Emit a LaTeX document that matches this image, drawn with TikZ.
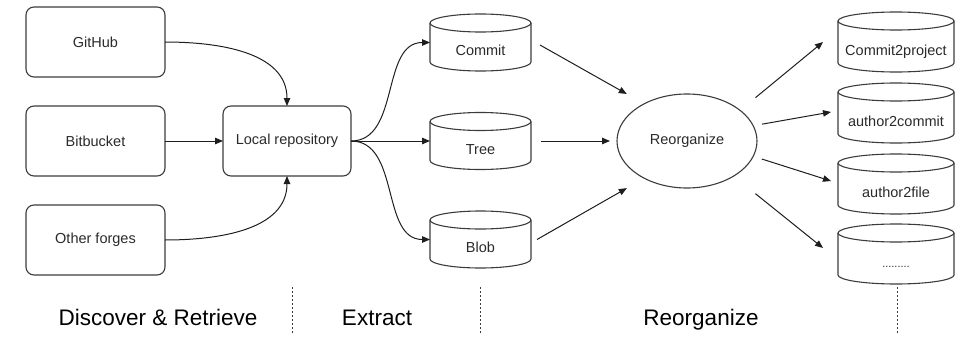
\documentclass[tikz,border=0pt]{standalone}
\usepackage{fontspec}
\setmainfont{Liberation Sans}
\usetikzlibrary{arrows.meta,shapes.geometric,calc}
\definecolor{boxgray}{HTML}{3C3C3C}
\definecolor{txt}{HTML}{2A2A2A}
\definecolor{arrcol}{HTML}{1E1E1E}
\begin{document}
\begin{tikzpicture}[x=1pt,y=1pt,
  box/.style={draw=boxgray, line width=1.1pt, rounded corners=8pt, minimum width=139pt, minimum height=70pt, inner sep=0pt, outer sep=0pt, font=\fontsize{14.5}{16}\selectfont, text=txt},
  db/.style={minimum width=#1, minimum height=57pt, text height=26pt, text depth=0pt, inner sep=0pt, outer sep=0pt, font=\fontsize{14.5}{16}\selectfont, text=txt},
  dbline/.style={draw=boxgray, line width=1.1pt},
  ell/.style={ellipse, draw=boxgray, line width=1.1pt, minimum width=140pt, minimum height=94pt, inner sep=0pt, outer sep=0pt, font=\fontsize{14.5}{16}\selectfont, text=txt},
  arr/.style={-{Triangle[length=8pt,width=6.5pt]}, line width=1pt, draw=arrcol},
  sepline/.style={draw=boxgray, line width=0.9pt, dash pattern=on 2pt off 2pt},
  stage/.style={font=\fontsize{22.5}{26}\selectfont, text=black, anchor=base}]
\useasboundingbox (0,0) rectangle (969,349);
% sources
\node[box] (github) at (95.5,307) {GitHub};
\node[box] (bitbucket) at (95.5,208) {Bitbucket};
\node[box] (other) at (95.5,109) {Other forges};
\node[box, minimum width=128pt] (local) at (287,208) {Local repository};
% extracted
\node[db=101pt] (commit) at (480.5,306.5) {Commit};
\node[db=101pt] (tree) at (480.5,208) {Tree};
\node[db=101pt] (blob) at (480.5,109.5) {Blob};
% reorganize
\node[ell] (reorg) at (687,208) {Reorganize};
\node[db=116pt, minimum height=60pt] (c2p) at (896,307) {Commit2project};
\node[db=116pt, minimum height=60pt] (a2c) at (896,236) {author2commit};
\node[db=116pt, minimum height=60pt] (a2f) at (896,165) {author2file};
\node[db=116pt, minimum height=60pt, font=\fontsize{11}{12}\selectfont] (more) at (896,95) {.........};
% cylinder outlines
\foreach \n/\w in {commit/50.5, tree/50.5, blob/50.5, c2p/58, a2c/58, a2f/58, more/58} {
  \draw[dbline] ([yshift=-9pt]\n.north west) -- ([yshift=9pt]\n.south west)
    arc[start angle=180, end angle=360, x radius=\w, y radius=9] -- ([yshift=-9pt]\n.north east);
  \draw[dbline] ([yshift=-9pt]\n.north) ellipse[x radius=\w, y radius=9];
}
% connectors
\draw[arr] (github.east) to[out=0,in=90] (local.north);
\draw[arr] (bitbucket) -- (local);
\draw[arr] (other.east) to[out=0,in=-90] (local.south);
\draw[arr] (local.east) to[out=0,in=180] (commit.west);
\draw[arr] (local) -- (tree);
\draw[arr] (local.east) to[out=0,in=180] (blob.west);
\draw[arr, shorten >=20pt] ([xshift=9pt,yshift=-2.5pt]commit.east) -- (reorg.139);
\draw[arr, shorten >=7pt] ([xshift=10pt]tree.east) -- (reorg.west);
\draw[arr, shorten >=20pt] ([xshift=6pt]blob.east) -- (reorg.221);
\draw[arr, shorten <=20pt] (reorg.30) -- ([xshift=-15pt]c2p.west);
\draw[arr, shorten <=9pt] (reorg.13) -- ([xshift=-7pt,yshift=1pt]a2c.west);
\draw[arr, shorten <=9pt] (reorg.-13) -- ([xshift=-7pt,yshift=3pt]a2f.west);
\draw[arr, shorten <=28pt] (reorg.-37) -- ([xshift=-15pt,yshift=6pt]more.west);
% stage labels and separators
\node[stage] (s1) at (158,24) {Discover \& Retrieve};
\node[stage] (s2) at (377,24) {Extract};
\node[stage] (s3) at (701,24) {Reorganize};
\draw[sepline] (292,62) -- (292,16);
\draw[sepline] (480,62) -- (480,16);
\draw[sepline] (897,62) -- (897,16);
\end{tikzpicture}
\end{document}
